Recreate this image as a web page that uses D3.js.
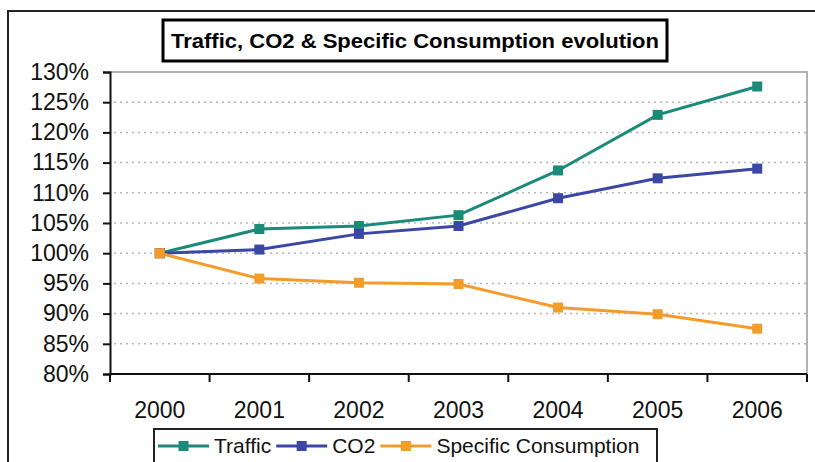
<!DOCTYPE html>
<html><head><meta charset="utf-8">
<script src="https://cdn.jsdelivr.net/npm/d3@7"></script>
<style>body{margin:0;background:#fff;}svg{display:block;font-family:"Liberation Sans",Arial,sans-serif;}</style>
</head><body>
<svg id="c" width="815" height="462"></svg>
<script>
const years = ["2000","2001","2002","2003","2004","2005","2006"];
const traffic = [100.0, 104.0, 104.5, 106.3, 113.7, 122.9, 127.6];
const co2 = [100.0, 100.6, 103.2, 104.5, 109.1, 112.4, 114.0];
const specific = [100.0, 95.8, 95.1, 94.9, 91.0, 89.9, 87.5];
const yTicks = [80, 85, 90, 95, 100, 105, 110, 115, 120, 125, 130];
const seriesNames = ["Traffic", "CO2", "Specific Consumption"];
const seriesColors = ["#1b8a78", "#3a47a5", "#f39c2a"];
const titleText = "Traffic, CO2 & Specific Consumption evolution";

const svg = d3.select("#c");
const L = 110, R = 807, T = 72, B = 374;
const x = d3.scaleBand().domain(years).range([L, R]);
const y = d3.scaleLinear().domain([80, 130]).range([B, T]);

// outer frame
svg.append("rect").attr("x", 8).attr("y", 11).attr("width", 900).attr("height", 600)
  .attr("fill", "none").attr("stroke", "#222").attr("stroke-width", 2);

// title box
svg.append("rect").attr("x", 163).attr("y", 20).attr("width", 504).attr("height", 41)
  .attr("fill", "#fff").attr("stroke", "#000").attr("stroke-width", 3);
svg.append("text").attr("x", 415).attr("y", 41).attr("text-anchor", "middle")
  .attr("dominant-baseline", "central").attr("font-weight", "bold").attr("font-size", 20)
  .attr("textLength", 488).attr("lengthAdjust", "spacingAndGlyphs")
  .attr("fill", "#000").text(titleText);

// gridlines
svg.append("g").selectAll("line").data(yTicks.filter(v => v > 80 && v < 130)).join("line")
  .attr("x1", L + 4).attr("x2", R).attr("y1", d => y(d)).attr("y2", d => y(d))
  .attr("stroke", "#b5b5b5").attr("stroke-width", 1.5).attr("stroke-dasharray", "2,4");

// plot frame top/right
svg.append("path").attr("d", `M${L},${T}H${R}V${B}`).attr("fill", "none")
  .attr("stroke", "#999").attr("stroke-width", 1.5);

// y axis
const yAxis = d3.axisLeft(y).tickValues(yTicks).tickFormat(d => d + "%").tickSize(7).tickPadding(14);
const gy = svg.append("g").attr("transform", `translate(${L},0)`).call(yAxis);
gy.select(".domain").attr("stroke", "#111").attr("stroke-width", 2);
gy.selectAll(".tick line").attr("stroke", "#111").attr("stroke-width", 2);
gy.selectAll("text").attr("font-size", 23).attr("fill", "#111")
  .attr("font-family", "Liberation Sans, Arial, sans-serif");

// x axis: ticks at band boundaries
const gx = svg.append("g").attr("transform", `translate(0,${B})`);
gx.append("line").attr("x1", L).attr("x2", R).attr("stroke", "#111").attr("stroke-width", 2);
const bounds = years.map(d => x(d)).concat([x(years[years.length - 1]) + x.bandwidth()]);
gx.selectAll("line.t").data(bounds).join("line").attr("class", "t")
  .attr("x1", d => d).attr("x2", d => d).attr("y1", 0).attr("y2", 8)
  .attr("stroke", "#111").attr("stroke-width", 2);
gx.selectAll("text").data(years).join("text")
  .attr("x", d => x(d) + x.bandwidth() / 2).attr("y", 44).attr("text-anchor", "middle")
  .attr("font-size", 23).attr("fill", "#111").text(d => d);

// series
const data = [traffic, co2, specific];
const line = d3.line().x((d, i) => x(years[i]) + x.bandwidth() / 2).y(d => y(d));
data.forEach((s, k) => {
  svg.append("path").datum(s).attr("d", line).attr("fill", "none")
    .attr("stroke", seriesColors[k]).attr("stroke-width", 3);
});
data.forEach((s, k) => {
  svg.append("g").selectAll("rect").data(s).join("rect")
    .attr("x", (d, i) => x(years[i]) + x.bandwidth() / 2 - 5)
    .attr("y", d => y(d) - 5).attr("width", 10).attr("height", 10)
    .attr("fill", seriesColors[k]);
});

// legend
svg.append("rect").attr("x", 154).attr("y", 429).attr("width", 503).attr("height", 60)
  .attr("fill", "#fff").attr("stroke", "#222").attr("stroke-width", 2);
let lx = 158;
const ly = 446;
seriesNames.forEach((n, k) => {
  const g = svg.append("g");
  g.append("line").attr("x1", lx).attr("x2", lx + 51).attr("y1", ly).attr("y2", ly)
    .attr("stroke", seriesColors[k]).attr("stroke-width", 3);
  g.append("rect").attr("x", lx + 25.5 - 5).attr("y", ly - 5).attr("width", 10).attr("height", 10)
    .attr("fill", seriesColors[k]);
  const t = g.append("text").attr("x", lx + 56).attr("y", ly - 1).attr("dominant-baseline", "central")
    .attr("font-size", 21).attr("fill", "#111").text(n);
  lx = lx + 56 + t.node().getComputedTextLength() + 5;
});
</script>
</body></html>
